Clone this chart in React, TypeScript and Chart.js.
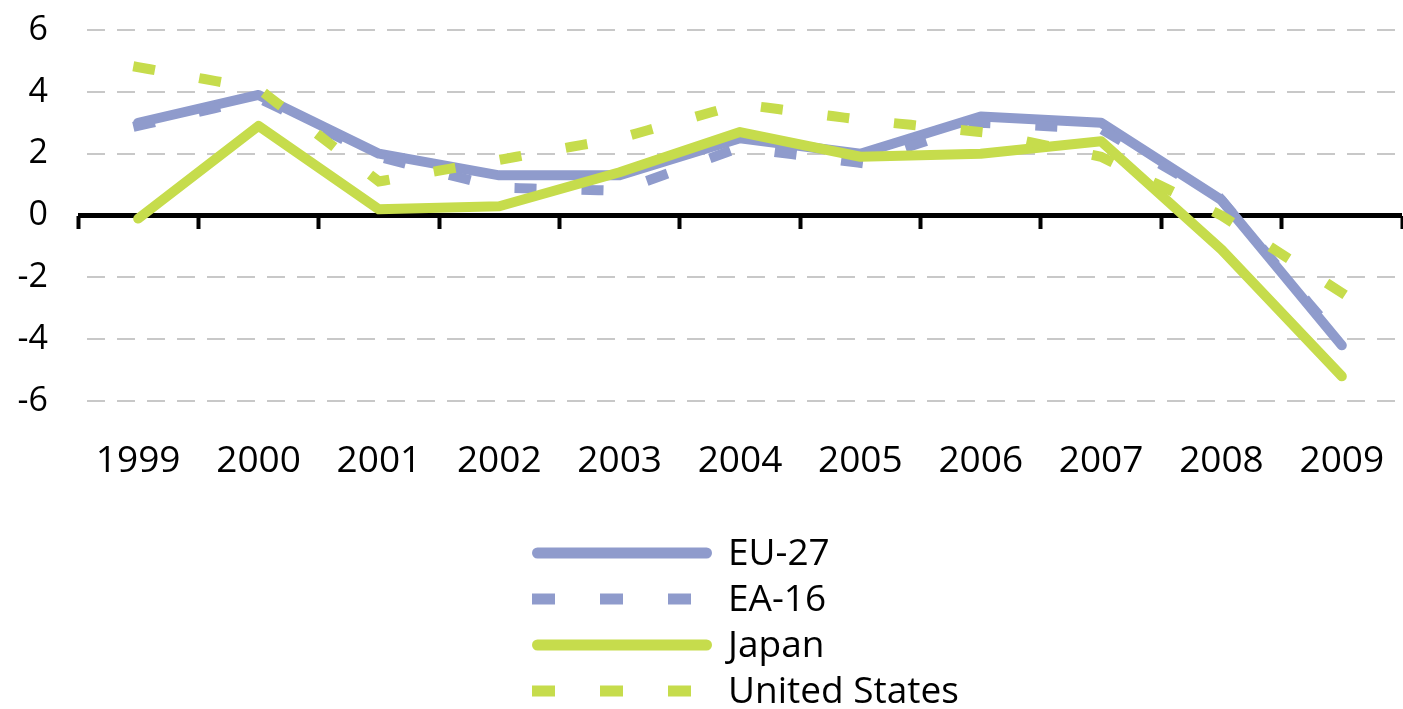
import React, { useEffect, useRef } from "react";
import { Chart, registerables } from "chart.js";

Chart.register(...registerables);

const years = ["1999", "2000", "2001", "2002", "2003", "2004", "2005", "2006", "2007", "2008", "2009"];
const eu27 = [3.0, 3.9, 2.0, 1.3, 1.3, 2.5, 2.0, 3.2, 3.0, 0.5, -4.2];
const ea16 = [2.9, 3.8, 1.9, 0.9, 0.8, 2.2, 1.7, 3.0, 2.8, 0.5, -4.1];
const japan = [-0.1, 2.9, 0.2, 0.3, 1.4, 2.7, 1.9, 2.0, 2.4, -1.1, -5.2];
const us = [4.8, 4.1, 1.1, 1.8, 2.5, 3.6, 3.1, 2.7, 1.9, 0.0, -2.5];
const seriesNames = ["EU-27", "EA-16", "Japan", "United States"];
const yMin = -6;
const yMax = 6;
const yStep = 2;

const BLUE = "#8f9bcc";
const GREEN = "#c6dc4c";
const FONT = "'Open Sans', sans-serif";

const legendPlugin = {
  id: "customLegend",
  afterDraw(chart: any) {
    const ctx = chart.ctx;
    const x0 = 532;
    const x1 = 712;
    const textX = 728;
    const rowY = [553, 599, 645, 691];
    chart.data.datasets.forEach((ds: any, i: number) => {
      const y = rowY[i];
      const lw = 11;
      const half = lw / 2;
      const dashed = ds.borderDash && ds.borderDash.length > 0;
      ctx.save();
      ctx.strokeStyle = ds.borderColor;
      ctx.lineWidth = lw;
      ctx.lineCap = dashed ? "square" : "round";
      ctx.setLineDash(dashed ? [12, 56] : []);
      ctx.beginPath();
      ctx.moveTo(x0 + half, y);
      ctx.lineTo(x1 - half, y);
      ctx.stroke();
      ctx.setLineDash([]);
      ctx.fillStyle = "#000";
      ctx.font = `37px ${FONT}`;
      ctx.textBaseline = "middle";
      ctx.textAlign = "left";
      ctx.fillText(ds.label, textX, y + 1);
      ctx.restore();
    });
  },
};

export default function App() {
  const ref = useRef<HTMLCanvasElement | null>(null);

  useEffect(() => {
    document.body.style.margin = "0";
    const canvas = ref.current;
    if (!canvas) return;
    const solid = { borderWidth: 10, borderCapStyle: "round" as const, borderJoinStyle: "round" as const };
    const dashed = { borderWidth: 10, borderCapStyle: "square" as const, borderDash: [12, 55] };
    const chart = new Chart(canvas, {
      type: "line",
      data: {
        labels: years,
        datasets: [
          { label: seriesNames[0], data: eu27, borderColor: BLUE, backgroundColor: BLUE, order: 3, ...solid },
          { label: seriesNames[1], data: ea16, borderColor: BLUE, backgroundColor: BLUE, order: 2, ...dashed },
          { label: seriesNames[2], data: japan, borderColor: GREEN, backgroundColor: GREEN, order: 1, ...solid },
          { label: seriesNames[3], data: us, borderColor: GREEN, backgroundColor: GREEN, order: 0, ...dashed },
        ],
      },
      options: {
        responsive: false,
        animation: false,
        devicePixelRatio: 1,
        layout: { padding: { top: 30, right: 1, left: 0, bottom: 0 } },
        elements: { point: { radius: 0, hoverRadius: 0 }, line: { tension: 0 } },
        plugins: { legend: { display: false }, tooltip: { enabled: false } },
        scales: {
          x: {
            type: "category",
            offset: true,
            grid: { display: false },
            border: { display: false },
            ticks: { font: { family: FONT, size: 37 }, color: "#000", padding: 30, maxRotation: 0, autoSkip: false },
            afterFit(s: any) {
              s.height = 308;
              s.paddingLeft = 0;
              s.paddingRight = 0;
            },
          },
          x2: {
            type: "category",
            axis: "x",
            position: { y: 0 },
            offset: true,
            labels: years,
            grid: { drawOnChartArea: false, drawTicks: true, tickLength: 13, tickWidth: 4, tickColor: "#000", offset: true },
            border: { display: false },
            ticks: { display: false },
            afterFit(s: any) {
              s.height = 0;
              s.paddingLeft = 0;
              s.paddingRight = 0;
            },
          },
          y: {
            min: yMin,
            max: yMax,
            ticks: { stepSize: yStep, font: { family: FONT, size: 34 }, color: "#000", padding: 30 },
            grid: {
              drawTicks: false,
              color: (c: any) => (c.tick && c.tick.value === 0 ? "#000" : "#c8c8c8"),
              lineWidth: (c: any) => (c.tick && c.tick.value === 0 ? 5 : 2),
            },
            border: {
              display: false,
              dash: (c: any) => (c.tick && c.tick.value === 0 ? [] : [18, 12]),
              dashOffset: 21,
            },
            afterFit(s: any) {
              s.width = 78;
              s.paddingTop = 0;
              s.paddingBottom = 0;
            },
          },
        } as any,
      },
      plugins: [legendPlugin],
    });
    return () => chart.destroy();
  }, []);

  return (
    <div style={{ position: "absolute", left: 0, top: 0, width: 1403, height: 709 }}>
      <canvas ref={ref} width={1403} height={709} style={{ width: 1403, height: 709, display: "block" }} />
    </div>
  );
}
